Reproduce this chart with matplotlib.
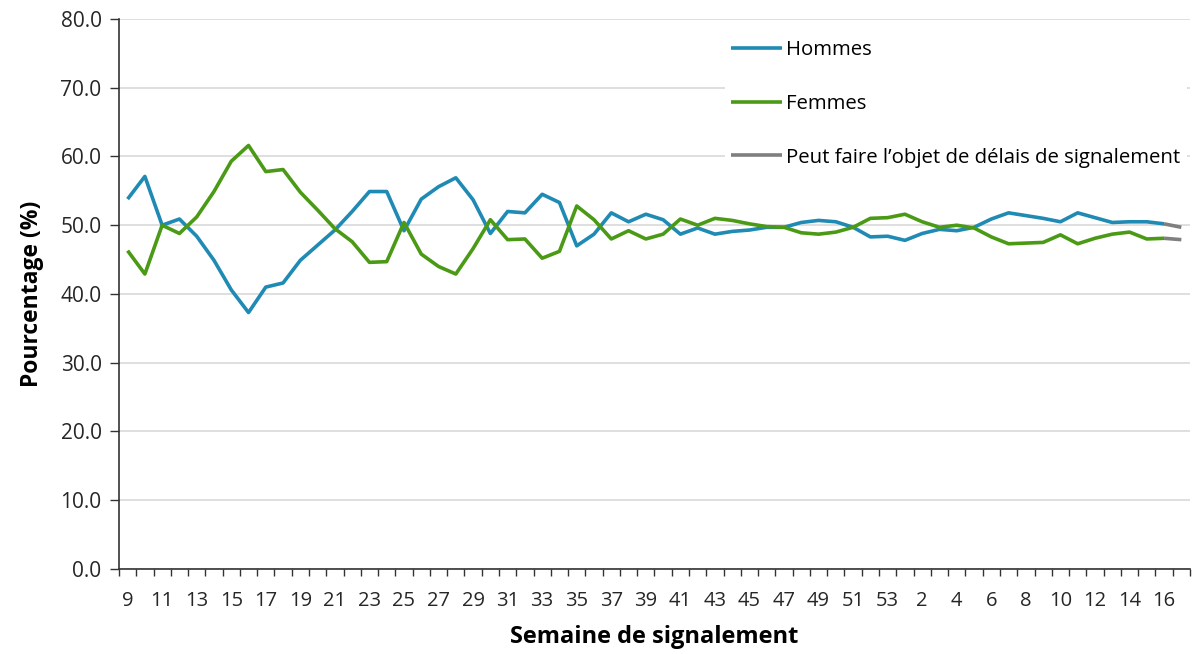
import numpy as np
import matplotlib.pyplot as plt
from matplotlib.ticker import MultipleLocator, FixedLocator

# Semaines de signalement (9 a 53, puis 1 a 17)
weeks = list(range(9, 54)) + list(range(1, 18))

hommes = [53.8, 57.1, 50.0, 50.9, 48.4, 44.9, 40.6, 37.3, 41.0, 41.6,
          44.9, 47.1, 49.3, 52.0, 54.9, 54.9, 49.2, 53.8, 55.6, 56.9,
          53.7, 48.8, 52.0, 51.8, 54.5, 53.3, 47.0, 48.7, 51.8, 50.5,
          51.6, 50.8, 48.7, 49.6, 48.7, 49.1, 49.3, 49.7, 49.7, 50.4,
          50.7, 50.5, 49.7, 48.3, 48.4, 47.8, 48.8, 49.4, 49.2, 49.7,
          50.9, 51.8, 51.4, 51.0, 50.5, 51.8, 51.1, 50.4, 50.5, 50.5,
          50.2, 49.7]
femmes = [46.3, 42.9, 50.0, 48.8, 51.2, 54.9, 59.3, 61.6, 57.8, 58.1,
          54.8, 52.2, 49.5, 47.6, 44.6, 44.7, 50.4, 45.8, 44.0, 42.9,
          46.6, 50.8, 47.9, 48.0, 45.2, 46.2, 52.8, 50.8, 48.0, 49.2,
          48.0, 48.7, 50.9, 50.0, 51.0, 50.7, 50.2, 49.8, 49.7, 48.9,
          48.7, 49.0, 49.7, 51.0, 51.1, 51.6, 50.5, 49.7, 50.0, 49.6,
          48.3, 47.3, 47.4, 47.5, 48.6, 47.3, 48.1, 48.7, 49.0, 48.0,
          48.1, 47.9]

# les 2 dernieres semaines peuvent faire l'objet de delais de signalement
n_delai = 2

BLUE = '#1f8ab4'
GREEN = '#4b9a16'
GREY = '#7f7f7f'

plt.rcParams['font.family'] = ['Open Sans', 'DejaVu Sans']

fig = plt.figure(figsize=(11.92, 6.54), dpi=100)
ax = fig.add_axes([0.0998, 0.130, 0.8985, 0.841])

x = np.arange(len(weeks))
k = len(weeks) - n_delai + 1
ax.plot(x[:k], hommes[:k], color=BLUE, lw=2.6, label='Hommes', solid_capstyle='butt')
ax.plot(x[:k], femmes[:k], color=GREEN, lw=2.6, label='Femmes', solid_capstyle='butt')
ax.plot(x[k - 1:], hommes[k - 1:], color=GREY, lw=2.6,
        label='Peut faire l\u2019objet de délais de signalement', solid_capstyle='butt')
ax.plot(x[k - 1:], femmes[k - 1:], color=GREY, lw=2.6, solid_capstyle='butt')

ax.set_ylim(0, 80)
ax.set_xlim(-0.5, len(weeks) - 0.5)
ax.yaxis.set_major_locator(MultipleLocator(10))
ax.yaxis.set_major_formatter(plt.FuncFormatter(lambda v, p: f'{v:.1f}'))
ax.grid(axis='y', color='#d9d9d9', lw=1.2)
ax.set_axisbelow(True)

ax.set_xticks(x[::2])
ax.set_xticklabels([str(w) for w in weeks[::2]])
ax.xaxis.set_minor_locator(FixedLocator(np.arange(-0.5, len(weeks), 1)))
ax.tick_params(axis='x', which='major', length=0, pad=16, labelsize=14.5, labelcolor='#262626')
ax.tick_params(axis='x', which='minor', length=5, width=1, direction='out', color='#333333')
ax.tick_params(axis='y', length=6.5, width=1, labelsize=15, pad=6, color='#333333',
               labelcolor='#262626')

for s in ['top', 'right']:
    ax.spines[s].set_visible(False)
for s in ['left', 'bottom']:
    ax.spines[s].set_color('#333333')
    ax.spines[s].set_linewidth(1.2)

ax.set_ylabel('Pourcentage (%)', fontsize=16.5, fontweight='bold', labelpad=12)
ax.set_xlabel('Semaine de signalement', fontsize=17, fontweight='bold', labelpad=10)

leg = ax.legend(loc='upper right', bbox_to_anchor=(1.0065, 0.991), fontsize=14.7,
                frameon=True, facecolor='white', edgecolor='none', framealpha=1,
                handlelength=2.5, handletextpad=0.2, labelspacing=1.65,
                borderpad=0.3, fancybox=False)

fig.savefig('out.png', dpi=100)
